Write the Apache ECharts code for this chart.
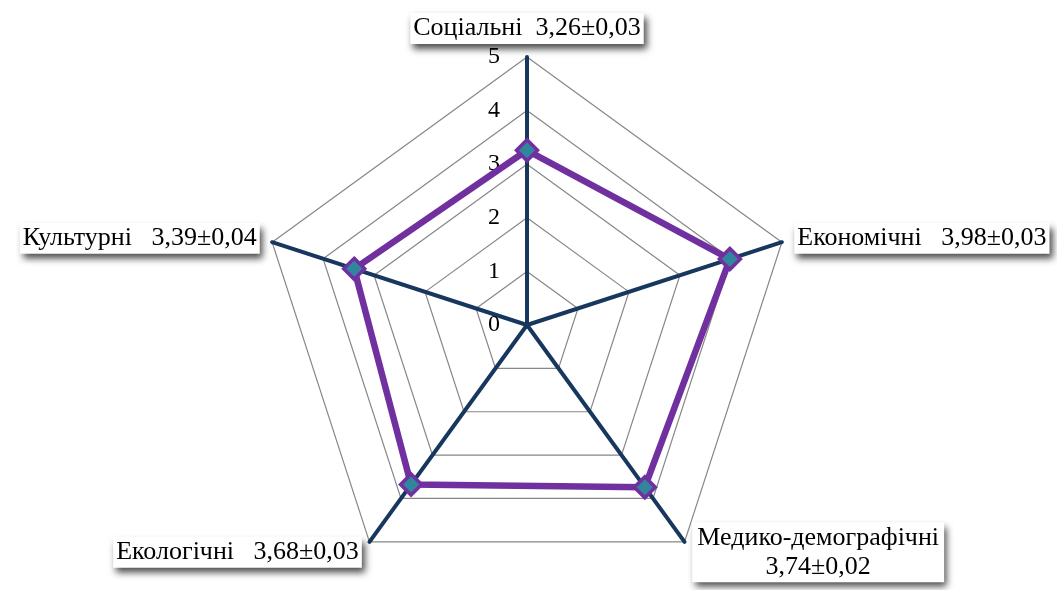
<!DOCTYPE html>
<html><head><meta charset="utf-8">
<script src="https://cdn.jsdelivr.net/npm/echarts@6/dist/echarts.min.js"></script>
<style>html,body{margin:0;padding:0;background:#fff}#c{width:1057px;height:590px}</style>
</head><body><div id="c"></div>
<script>
// Order: counter-clockwise from top
const categories = ['Соціальні', 'Культурні', 'Екологічні', 'Медико-демографічні', 'Економічні'];
const values = [3.26, 3.39, 3.68, 3.74, 3.98];
const errors = ['0,03', '0,04', '0,03', '0,02', '0,03'];
const gaps = ['  ', '   ', '   ', '\n', '   '];
const tickLabels = ['0', '1', '2', '3', '4', '5'];
const maxVal = 5;

const fmt = v => v.toFixed(2).replace('.', ',');
const labels = categories.map((c, i) => c + gaps[i] + fmt(values[i]) + '±' + errors[i]);

const center = [527, 325];
const radius = 268;
const font = 'Liberation Serif, Times New Roman, serif';

const chart = echarts.init(document.getElementById('c'), null, {renderer: 'canvas'});
chart.setOption({
  backgroundColor: '#fff',
  animation: false,
  polar: {center: center, radius: radius},
  angleAxis: {show: false, startAngle: 90, min: 0, max: 360},
  radiusAxis: {
    min: 0, max: maxVal, interval: 1,
    axisLine: {show: false}, axisTick: {show: false}, splitLine: {show: false},
    axisLabel: {
      show: true, margin: 27, color: '#000', fontFamily: font, fontSize: 24,
      formatter: (v) => tickLabels[Math.round(v)]
    }
  },
  radar: {
    center: center,
    radius: radius,
    startAngle: 90,
    splitNumber: 5,
    shape: 'polygon',
    nameGap: 13,
    indicator: labels.map(l => ({name: l, min: 0, max: maxVal})),
    axisName: {
      color: '#000', fontFamily: font, fontSize: 26, lineHeight: 29,
      backgroundColor: '#fff',
      padding: [1, 3, 1, 3],
      shadowColor: 'rgba(0,0,0,0.7)', shadowBlur: 7, shadowOffsetX: 3, shadowOffsetY: 5,
      formatter: (name) => name.indexOf('\n') >= 0
        ? name.split('\n').map(s => '{c|' + s + '}').join('\n')
        : name,
      rich: {
        c: {width: 246, align: 'center', fontFamily: font, fontSize: 26, lineHeight: 29, color: '#000'}
      }
    },
    axisLine: {lineStyle: {color: '#17375E', width: 4}},
    splitLine: {lineStyle: {color: '#878787', width: 1.2}},
    splitArea: {show: false}
  },
  series: [{
    type: 'radar',
    data: [{value: values}],
    lineStyle: {color: '#7030A0', width: 6.5},
    symbol: 'diamond',
    symbolSize: 21,
    itemStyle: {color: '#31859C', borderColor: '#7030A0', borderWidth: 3.5},
    areaStyle: null
  }]
});
</script></body></html>
